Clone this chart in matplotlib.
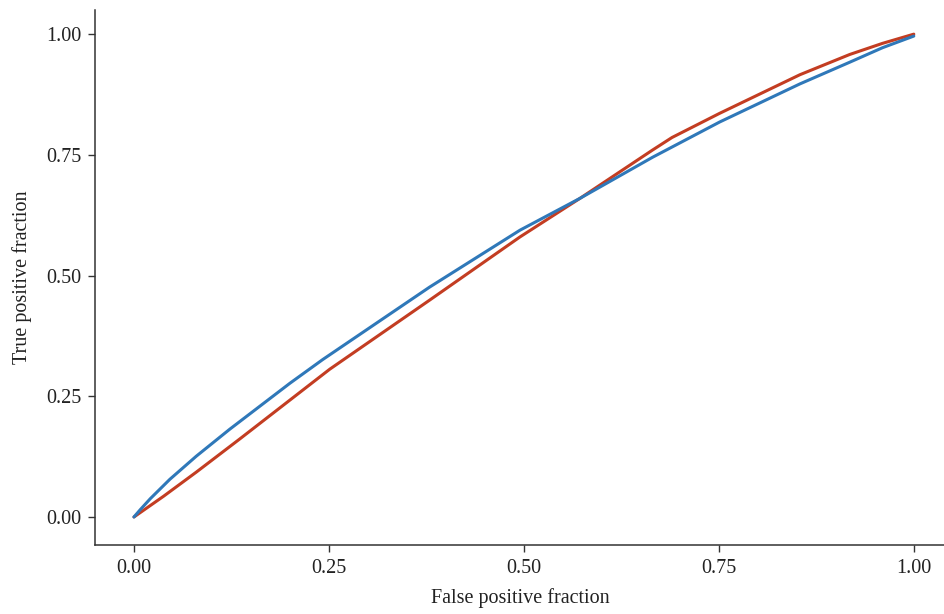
import matplotlib
matplotlib.use("Agg")
import matplotlib.pyplot as plt

# ROC curves
blue_fpr = [0, 0.008, 0.021, 0.046, 0.080, 0.123, 0.2, 0.242, 0.379, 0.495,
            0.572, 0.665, 0.751, 0.854, 0.918, 0.960, 1.0]
blue_tpr = [0, 0.015, 0.038, 0.078, 0.126, 0.182, 0.277, 0.326, 0.476, 0.594,
            0.660, 0.745, 0.818, 0.897, 0.942, 0.972, 0.996]

red_fpr = [0, 0.038, 0.080, 0.136, 0.251, 0.379, 0.495, 0.572, 0.665, 0.69,
           0.751, 0.854, 0.918, 0.960, 1.0]
red_tpr = [0, 0.043, 0.093, 0.162, 0.306, 0.449, 0.580, 0.660, 0.760, 0.786,
           0.836, 0.916, 0.958, 0.981, 1.0]

ticks = [0.0, 0.25, 0.5, 0.75, 1.0]
tick_labels = ["0.00", "0.25", "0.50", "0.75", "1.00"]

plt.rcParams['font.family'] = ['Liberation Serif', 'DejaVu Serif']

fig = plt.figure(figsize=(9.45, 6.14), dpi=100)
ax = fig.add_axes([0.1005, 0.1124, 0.8995, 0.8713])

ax.plot(red_fpr, red_tpr, color="#c33d22", lw=2.2,
        solid_capstyle="round", solid_joinstyle="round")
ax.plot(blue_fpr, blue_tpr, color="#2f78b9", lw=2.2,
        solid_capstyle="round", solid_joinstyle="round")

ax.set_xlim(-0.05, 1.04)
ax.set_ylim(-0.058, 1.05)
ax.set_xticks(ticks)
ax.set_xticklabels(tick_labels)
ax.set_yticks(ticks)
ax.set_yticklabels(tick_labels)

for side in ["top", "right"]:
    ax.spines[side].set_visible(False)
for side in ["left", "bottom"]:
    ax.spines[side].set_color("#333333")
    ax.spines[side].set_linewidth(1.1)

ax.tick_params(direction="out", length=5, width=1.0, color="#333333",
               labelsize=14.5, labelcolor="#222222", pad=5)

ax.set_xlabel("False positive fraction", fontsize=14.5, color="#222222", labelpad=7)
ax.set_ylabel("True positive fraction", fontsize=14.5, color="#222222", labelpad=10)

fig.savefig("out.png", dpi=100)
